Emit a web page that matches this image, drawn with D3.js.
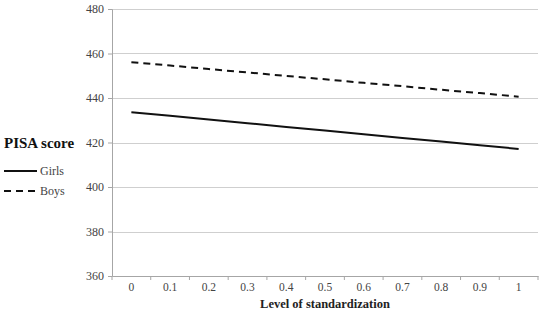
<!DOCTYPE html>
<html>
<head>
<meta charset="utf-8">
<script src="https://cdn.jsdelivr.net/npm/d3@7"></script>
<style>
  body { margin: 0; background: #fff; }
  text { font-family: "Liberation Serif", "DejaVu Serif", serif; }
</style>
</head>
<body>
<div id="chart"></div>
<script>
// data
var levels = ['0','0.1','0.2','0.3','0.4','0.5','0.6','0.7','0.8','0.9','1'];
var girls = [433.6, 432.0, 430.3, 428.7, 427.0, 425.4, 423.7, 422.0, 420.4, 418.8, 417.1];
var boys  = [456.1, 454.6, 453.0, 451.5, 449.9, 448.4, 446.8, 445.3, 443.7, 442.2, 440.6];
var yTicks = [360, 380, 400, 420, 440, 460, 480];

var W = 547, H = 314;
var margin = {top: 9, right: 9, bottom: 38, left: 112},
  width = W - margin.left - margin.right,
  height = H - margin.top - margin.bottom;

var svg = d3.select("#chart")
.append("svg")
  .attr("width", W)
  .attr("height", H);

var g = svg.append("g")
  .attr("transform", "translate(" + margin.left + "," + margin.top + ")");

var x = d3.scaleBand()
  .range([0, width])
  .domain(levels);

var y = d3.scaleLinear()
  .range([height, 0])
  .domain([360, 480]);

// horizontal gridlines
g.selectAll(".grid")
  .data(yTicks.slice(1))
  .enter()
  .append("line")
  .attr("x1", 0)
  .attr("x2", width)
  .attr("y1", function(d) { return Math.round(y(d)) + 0.5; })
  .attr("y2", function(d) { return Math.round(y(d)) + 0.5; })
  .style("stroke", "#cfcfcf")
  .style("stroke-width", 1);

// y axis
var yAxis = g.append("g")
  .call(d3.axisLeft(y).tickValues(yTicks).tickSize(4).tickPadding(4));
yAxis.select(".domain").style("stroke", "#a6a6a6");
yAxis.selectAll(".tick line").style("stroke", "#a6a6a6");
yAxis.selectAll("text")
  .style("font-size", "12px")
  .style("fill", "#444");

// x axis (ticks between categories)
var xAxis = g.append("g")
  .attr("transform", "translate(0," + height + ")")
  .call(d3.axisBottom(x).tickSize(0).tickPadding(7));
xAxis.select(".domain").style("stroke", "#a6a6a6");
xAxis.selectAll("text")
  .style("font-size", "11.5px")
  .style("fill", "#444");
xAxis.selectAll(".sep")
  .data(levels.concat(["end"]))
  .enter()
  .append("line")
  .attr("x1", function(d, i) { return i < levels.length ? x(d) : width; })
  .attr("x2", function(d, i) { return i < levels.length ? x(d) : width; })
  .attr("y1", 0)
  .attr("y2", 4)
  .style("stroke", "#a6a6a6");

// lines
var line = d3.line()
  .x(function(d, i) { return x(levels[i]) + x.bandwidth() / 2; })
  .y(function(d) { return y(d); });

g.append("path")
  .datum(girls)
  .attr("d", line)
  .style("fill", "none")
  .style("stroke", "#111")
  .style("stroke-width", 2);

g.append("path")
  .datum(boys)
  .attr("d", line)
  .style("fill", "none")
  .style("stroke", "#111")
  .style("stroke-width", 2)
  .style("stroke-dasharray", "7,5");

// x axis title
svg.append("text")
  .attr("x", margin.left + width / 2)
  .attr("y", 308)
  .attr("text-anchor", "middle")
  .style("font-size", "12.5px")
  .style("font-weight", "bold")
  .style("fill", "#222")
  .text("Level of standardization");

// y title + legend
svg.append("text")
  .attr("x", 4)
  .attr("y", 148)
  .style("font-size", "15px")
  .style("font-weight", "bold")
  .style("fill", "#111")
  .text("PISA score");

var legend = [{name: "Girls", dash: null, y: 171}, {name: "Boys", dash: "7,5", y: 191}];
legend.forEach(function(d) {
  svg.append("line")
    .attr("x1", 4).attr("x2", 37)
    .attr("y1", d.y).attr("y2", d.y)
    .style("stroke", "#111")
    .style("stroke-width", 2)
    .style("stroke-dasharray", d.dash);
  svg.append("text")
    .attr("x", 40)
    .attr("y", d.y + 4)
    .style("font-size", "12px")
    .style("fill", "#444")
    .text(d.name);
});
</script>
</body>
</html>
